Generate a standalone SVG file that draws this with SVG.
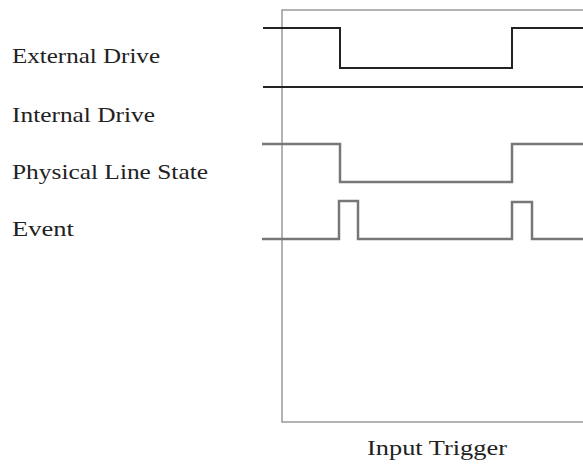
<svg xmlns="http://www.w3.org/2000/svg" width="583" height="465" viewBox="0 0 583 465">
<style>
text{font-family:"Liberation Serif","Times New Roman",serif;font-size:21px;fill:#222}
.blk{fill:none;stroke:#222;stroke-width:2}
.gry{fill:none;stroke:#777;stroke-width:2.5}
.box{fill:none;stroke:#999;stroke-width:1.5}
</style>
<rect width="583" height="465" fill="#fff"/>
<g id="frame"><path class="box" d="M583,10 H282 V422 H583"/></g>
<g id="labels">
<text x="12" y="63" textLength="148" lengthAdjust="spacingAndGlyphs">External Drive</text>
<text x="12" y="122" textLength="143" lengthAdjust="spacingAndGlyphs">Internal Drive</text>
<text x="12" y="179" textLength="196" lengthAdjust="spacingAndGlyphs">Physical Line State</text>
<text x="12" y="236" textLength="62" lengthAdjust="spacingAndGlyphs">Event</text>
<text x="367" y="455" textLength="140" lengthAdjust="spacingAndGlyphs">Input Trigger</text>
</g>
<g id="connectors">
<path class="blk" d="M263,28 H340 V68 H512 V28 H583"/>
<path class="blk" d="M263,87 H583"/>
<path class="gry" d="M262,144 H340 V182 H512 V144 H583"/>
<path class="gry" d="M262,239 H339 V201 H358 V239 H512 V202 H532 V239 H583"/>
</g>
</svg>
